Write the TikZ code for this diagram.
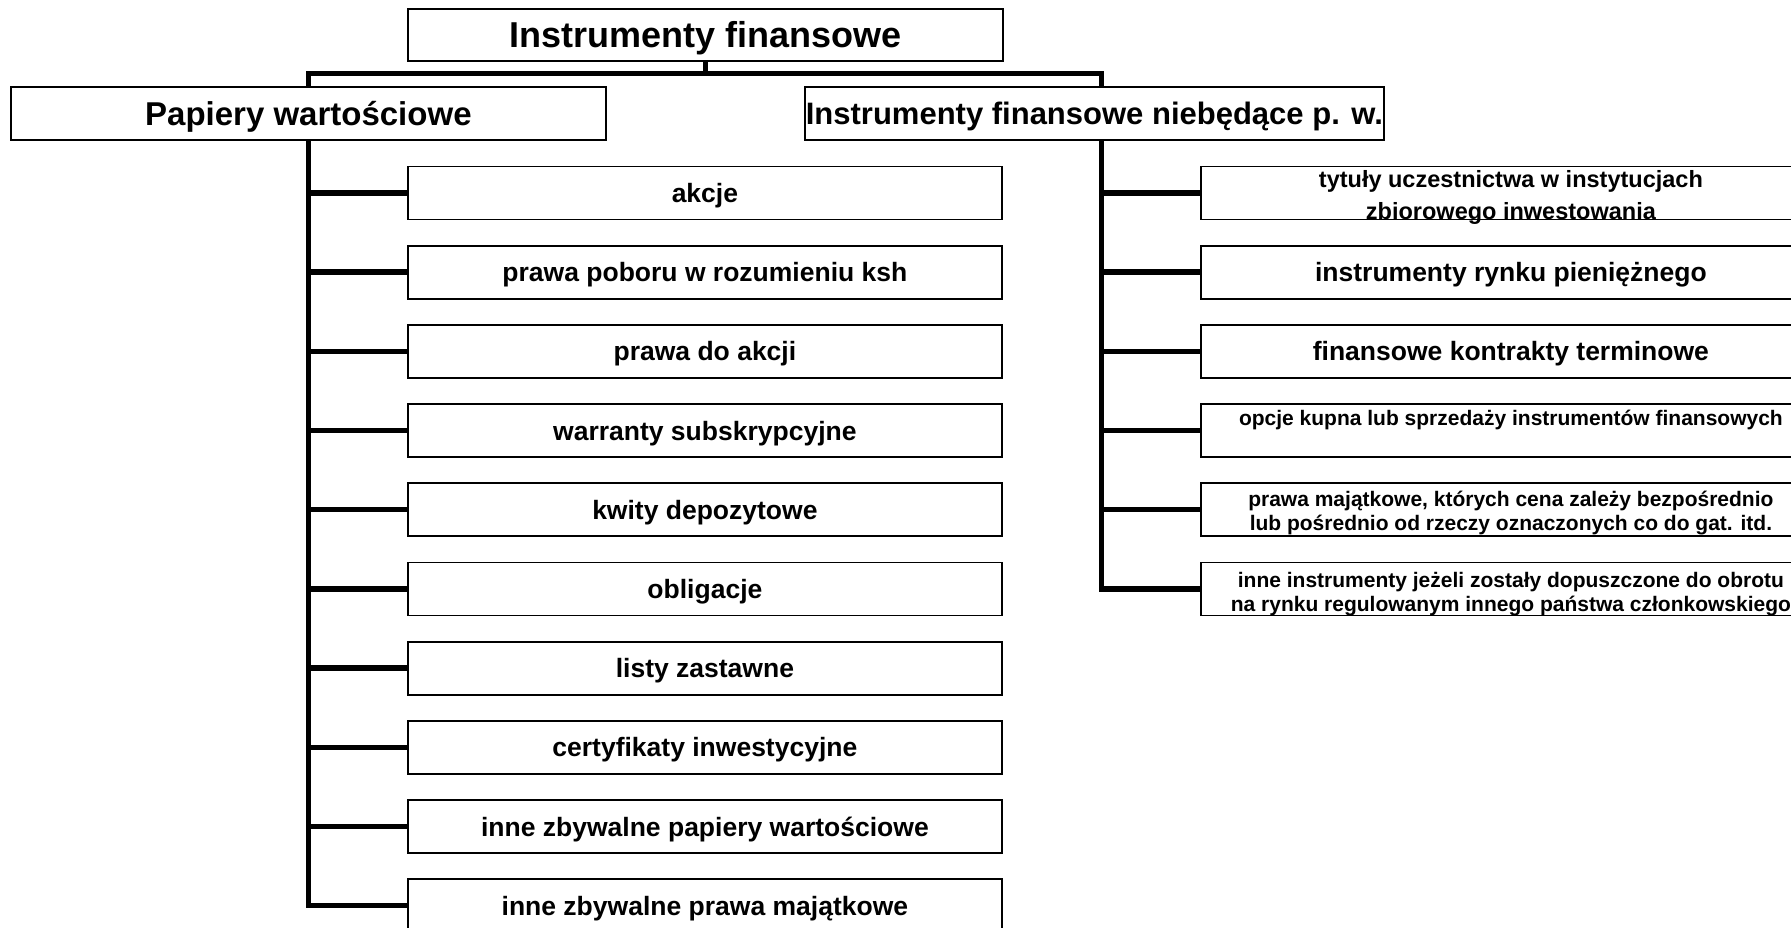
\documentclass[tikz,border=0pt]{standalone}
\usepackage{fontspec}
\setmainfont{Liberation Sans}
\usetikzlibrary{backgrounds}
\begin{document}
\begin{tikzpicture}[x=1pt,y=-1pt,
  box/.style={draw, line width=1.8pt, fill=white, rectangle, inner sep=0pt, anchor=north west},
  lbox/.style={box, minimum width=594pt, minimum height=53pt, text height=19pt, text depth=0pt, font=\bfseries\fontsize{26.5}{30}\selectfont},
  rbox/.style={box, minimum width=620pt, minimum height=53pt},
  rtext/.style={text height=19pt, text depth=0pt, font=\bfseries\fontsize{26.5}{30}\selectfont},
  small/.style={font=\bfseries\fontsize{21}{24.5}\selectfont},
  txt/.style={inner sep=0pt, align=center},
  conn/.style={line width=5.3pt}]
\path[use as bounding box] (0,0) rectangle (1791,927);
\clip (0,0) rectangle (1791,927);

% top level
\node[box, minimum width=595pt, minimum height=52pt, text height=26pt, text depth=0pt,
      font=\bfseries\fontsize{36}{40}\selectfont] (top) at (407,8) {Instrumenty finansowe};

% second level
\node[box, minimum width=595pt, minimum height=53pt, text height=23.5pt, text depth=0pt,
      font=\bfseries\fontsize{33}{37}\selectfont] (pw) at (10,86) {Papiery warto\'sciowe};
\node[box, minimum width=579pt, minimum height=53pt, text height=22pt, text depth=0pt,
      font=\bfseries\fontsize{31}{35}\selectfont] (nw) at (804,86) {Instrumenty finansowe niebędące p. w.};

% left column
\node[lbox] (L1) at (407,165.5) {akcje};
\node[lbox] (L2) at (407,244.7) {prawa poboru w rozumieniu ksh};
\node[lbox] (L3) at (407,323.9) {prawa do akcji};
\node[lbox] (L4) at (407,403.1) {warranty subskrypcyjne};
\node[lbox] (L5) at (407,482.3) {kwity depozytowe};
\node[lbox] (L6) at (407,561.5) {obligacje};
\node[lbox] (L7) at (407,640.7) {listy zastawne};
\node[lbox] (L8) at (407,719.9) {certyfikaty inwestycyjne};
\node[lbox] (L9) at (407,799.1) {inne zbywalne papiery wartościowe};
\node[lbox] (L10) at (407,878.3) {inne zbywalne prawa majątkowe};

% right column
\node[rbox] (R1) at (1200,165.5) {};
\node[txt, font=\bfseries\fontsize{23.5}{32}\selectfont] (R1t) at ([yshift=-4.5pt]R1.center)
  {tytuły uczestnictwa w instytucjach\\zbiorowego inwestowania};
\node[rbox, rtext] (R2) at (1200,244.7) {instrumenty rynku pieniężnego};
\node[rbox, rtext] (R3) at (1200,323.9) {finansowe kontrakty terminowe};
\node[rbox] (R4) at (1200,403.1) {};
\node[txt, small] (R4t) at ([yshift=-17pt]R4.north) {opcje kupna lub sprzedaży instrumentów finansowych};
\node[rbox] (R5) at (1200,482.3) {};
\node[txt, small] (R5t) at ([yshift=-3.5pt]R5.center)
  {prawa majątkowe, których cena zależy bezpośrednio\\lub pośrednio od rzeczy oznaczonych co do gat. itd.};
\node[rbox] (R6) at (1200,561.5) {};
\node[txt, small] (R6t) at ([yshift=-5pt]R6.center)
  {inne instrumenty jeżeli zostały dopuszczone do obrotu\\na rynku regulowanym innego państwa członkowskiego};

% connectors
\begin{pgfonlayer}{background}
\fill[white] (0,0) rectangle (1791,927);
\coordinate (bl) at (308.5,73.3);
\coordinate (br) at (1101.5,73.3);
\draw[conn] (L10.west) -| (bl) -- (br) |- (R6.west);
\draw[conn] (top.south) -- (top.south |- bl);
\foreach \n in {L1,L2,L3,L4,L5,L6,L7,L8,L9}
  \draw[conn] (\n.west) -- (\n.west -| bl);
\foreach \n in {R1,R2,R3,R4,R5}
  \draw[conn] (\n.west) -- (\n.west -| br);
\end{pgfonlayer}
\end{tikzpicture}
\end{document}
